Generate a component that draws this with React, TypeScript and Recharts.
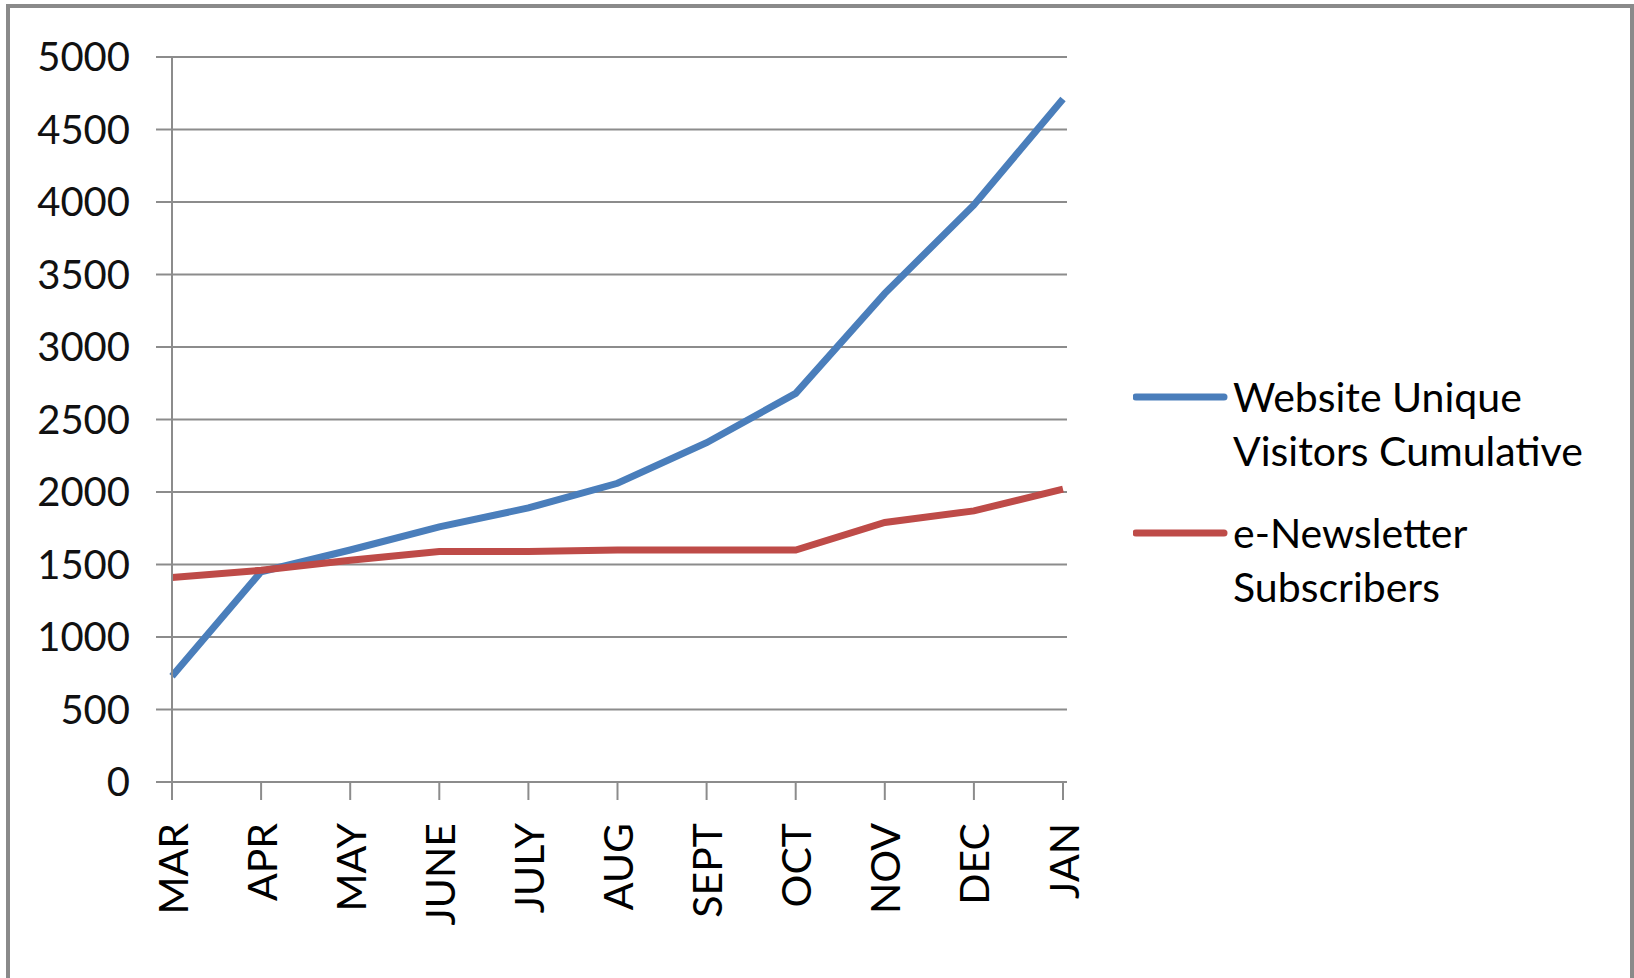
import { LineChart, Line, XAxis, YAxis, CartesianGrid, Legend } from 'recharts'

const months = ['MAR', 'APR', 'MAY', 'JUNE', 'JULY', 'AUG', 'SEPT', 'OCT', 'NOV', 'DEC', 'JAN']
const visitors = [730, 1450, 1600, 1760, 1890, 2060, 2340, 2680, 3370, 3980, 4710]
const subscribers = [1410, 1460, 1530, 1590, 1590, 1600, 1600, 1600, 1790, 1870, 2020]
const yTicks = [0, 500, 1000, 1500, 2000, 2500, 3000, 3500, 4000, 4500, 5000]

const seriesNames = ['Website Unique Visitors Cumulative', 'e-Newsletter Subscribers']
const colors = ['#4a7ebb', '#be4b48']

const rows = months.map((m, i) => ({ month: m, visitors: visitors[i], subscribers: subscribers[i] }))

const font = 'Lato, "Open Sans", sans-serif'
const gridColor = '#8c8c8c'

function MonthTick({ x, y, payload }: any) {
  return (
    <text
      x={x}
      y={y}
      transform={`rotate(-90 ${x} ${y})`}
      textAnchor="end"
      dominantBaseline="central"
      fontFamily={font}
      fontSize={41}
      fill="#000"
    >
      {payload.value}
    </text>
  )
}

function LegendBox({ payload }: any) {
  return (
    <div style={{ fontFamily: font, fontSize: 41, lineHeight: '54px', color: '#000' }}>
      {(payload ?? []).map((p: any) => (
        <div key={p.value} style={{ display: 'flex', alignItems: 'flex-start', marginBottom: 28 }}>
          <svg width={100} height={54} style={{ flex: 'none' }}>
            <line x1={3} y1={27} x2={91} y2={27} stroke={p.color} strokeWidth={7} strokeLinecap="round" />
          </svg>
          <div style={{ width: 390 }}>{p.value}</div>
        </div>
      ))}
    </div>
  )
}

export default function App() {
  return (
    <div style={{ position: 'fixed', left: 0, top: 0, width: 1634, height: 978, background: '#fff', overflow: 'hidden' }}>
      <div
        style={{
          position: 'absolute',
          left: 6,
          top: 4,
          width: 1620,
          height: 980,
          border: '4px solid #8a8a8a',
          borderBottom: 'none',
        }}
      />
      <div style={{ position: 'absolute', left: 0, top: 0 }}>
        <LineChart width={1634} height={978} data={rows} margin={{ top: 57, right: 567, bottom: 0, left: 0 }}>
          <CartesianGrid vertical={false} stroke={gridColor} strokeWidth={2} />
          <XAxis
            dataKey="month"
            interval={0}
            height={196}
            padding={{ left: 0, right: 4 }}
            tickSize={18}
            tickMargin={23}
            axisLine={{ stroke: gridColor, strokeWidth: 2 }}
            tickLine={{ stroke: gridColor, strokeWidth: 2 }}
            tick={<MonthTick />}
          />
          <YAxis
            width={172}
            domain={[0, 5000]}
            ticks={yTicks}
            interval={0}
            tickSize={16}
            tickMargin={26}
            axisLine={{ stroke: gridColor, strokeWidth: 2 }}
            tickLine={{ stroke: gridColor, strokeWidth: 2 }}
            tick={{ fontFamily: font, fontSize: 40, fill: '#111' }}
          />
          <Legend
            layout="vertical"
            align="center"
            verticalAlign="middle"
            content={<LegendBox />}
            wrapperStyle={{ left: 1133, top: 370, width: 500 }}
          />
          <Line
            type="linear"
            dataKey="visitors"
            name={seriesNames[0]}
            stroke={colors[0]}
            strokeWidth={7}
            dot={false}
            isAnimationActive={false}
          />
          <Line
            type="linear"
            dataKey="subscribers"
            name={seriesNames[1]}
            stroke={colors[1]}
            strokeWidth={7}
            dot={false}
            isAnimationActive={false}
          />
        </LineChart>
      </div>
    </div>
  )
}
